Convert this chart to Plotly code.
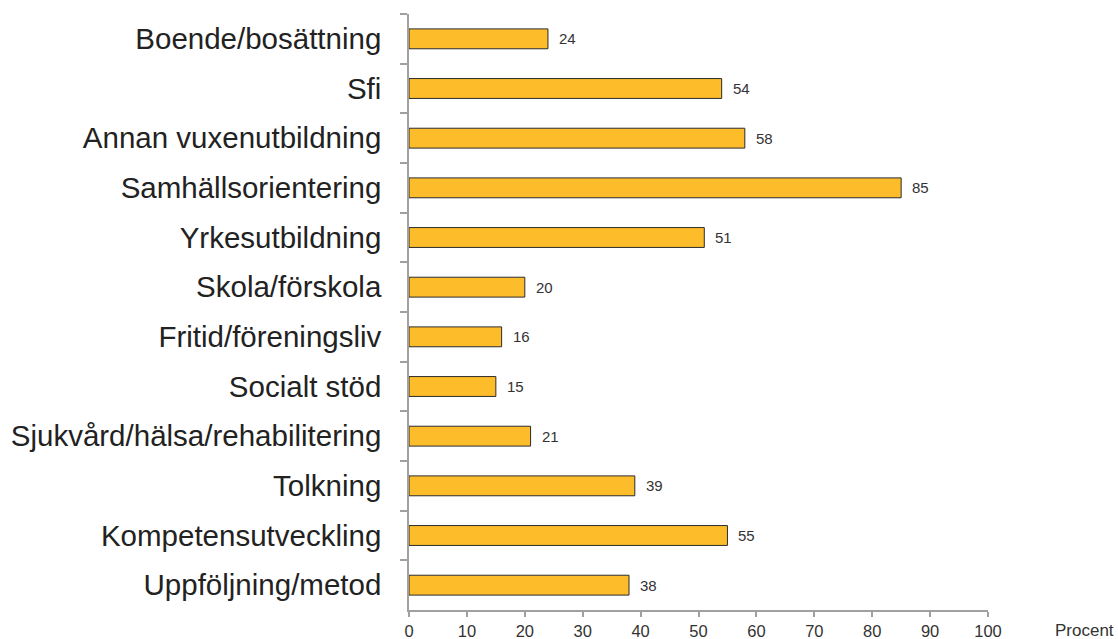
import plotly.graph_objects as go

categories = ["Boende/bosättning", "Sfi", "Annan vuxenutbildning", "Samhällsorientering",
              "Yrkesutbildning", "Skola/förskola", "Fritid/föreningsliv", "Socialt stöd",
              "Sjukvård/hälsa/rehabilitering", "Tolkning", "Kompetensutveckling",
              "Uppföljning/metod"]
values = [24, 54, 58, 85, 51, 20, 16, 15, 21, 39, 55, 38]
x_ticks = [0, 10, 20, 30, 40, 50, 60, 70, 80, 90, 100]
x_title = "Procent"

fig = go.Figure()
fig.add_trace(go.Bar(
    y=categories, x=values, orientation="h", width=0.4,
    marker=dict(color="#FDBD2B", line=dict(color="#2b2b2b", width=1)),
    hoverinfo="x+y",
))
for c, v in zip(categories, values):
    fig.add_annotation(x=v, y=c, text=str(v), showarrow=False, xanchor="left",
                       xshift=9, font=dict(size=15, color="#333333"))
fig.add_annotation(x=1, y=0, xref="paper", yref="paper", text=x_title, showarrow=False,
                   xanchor="left", yanchor="middle", xshift=65, yshift=-20,
                   font=dict(size=17, color="#333333"))

fig.update_layout(
    width=1118, height=639,
    margin=dict(l=409, r=130, t=14, b=29, autoexpand=False),
    paper_bgcolor="white", plot_bgcolor="white",
    font=dict(family="Liberation Sans, Arial, sans-serif", color="#333333"),
    showlegend=False, bargap=0.6,
)
fig.update_xaxes(range=[0, 100], tickvals=x_ticks, showgrid=False, zeroline=False,
                 showline=True, linecolor="#a0a0a0", linewidth=1.5,
                 ticks="outside", ticklen=5, tickcolor="#a0a0a0", tickwidth=1.5,
                 ticklabelstandoff=0, automargin=False,
                 tickfont=dict(size=16.5, color="#333333"))
fig.update_yaxes(categoryorder="array", categoryarray=categories, autorange="reversed",
                 range=[11.5, -0.5], tickson="boundaries",
                 showgrid=False, zeroline=False,
                 showline=True, linecolor="#a0a0a0", linewidth=1.5,
                 ticks="outside", ticklen=7, tickcolor="#a0a0a0", tickwidth=1.5,
                 ticklabelstandoff=20, automargin=False,
                 tickfont=dict(size=29.5, color="#222222"))
fig.write_html("out.html", config={"displayModeBar": False},
               post_script="document.body.style.margin='0';document.body.style.overflow='hidden';")
